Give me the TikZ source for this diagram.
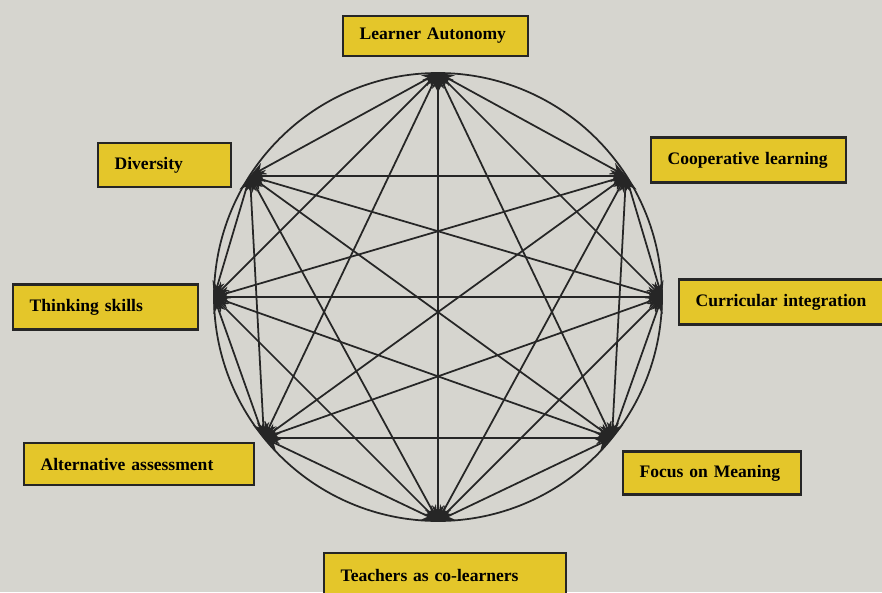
\documentclass[tikz,border=0pt]{standalone}
\usepackage{fontspec}
\setmainfont{Liberation Serif}
\usetikzlibrary{arrows.meta}
\definecolor{paper}{RGB}{214,213,207}
\definecolor{boxyellow}{RGB}{228,198,42}
\definecolor{ink}{RGB}{38,38,38}
\tikzset{lbl/.style={draw=ink,line width=1.3pt,fill=boxyellow,anchor=west,align=left,inner xsep=0.33cm,font=\bfseries},
  link/.style={ink,line width=1pt,{Stealth[length=9pt,width=7pt]}-{Stealth[length=9pt,width=7pt]}}}

\begin{document}
\begin{tikzpicture}[x=0.02cm,y=-0.02cm]
  \fill[paper] (0,0) rectangle (882,592); \useasboundingbox (0,0) rectangle (882,592);
  \node[lbl,text width=3.04cm,minimum height=0.8cm] (la) at (342,36) {Learner Autonomy};
  \node[lbl,text width=3.24cm,minimum height=0.9cm] (cl) at (650,160) {Cooperative learning};
  \node[lbl,text width=3.64cm,minimum height=0.9cm] (ci) at (678,302) {Curricular integration};
  \node[lbl,text width=2.9cm,minimum height=0.86cm] (fm) at (622,473) {Focus on Meaning};
  \node[lbl,text width=4.18cm,minimum height=0.88cm] (tc) at (323,575) {Teachers as co-learners};
  \node[lbl,text width=3.94cm,minimum height=0.84cm] (aa) at (23,464) {Alternative assessment};
  \node[lbl,text width=3.04cm,minimum height=0.9cm] (ts) at (12,307) {Thinking skills};
  \node[lbl,text width=2.0cm,minimum height=0.88cm] (dv) at (97,165) {Diversity};
  \draw[ink,line width=1pt] (438,297) circle (224);
  \coordinate (p1) at (438,73); \coordinate (p2) at (626,176); \coordinate (p3) at (662,297); \coordinate (p4) at (612,438);
  \coordinate (p5) at (438,521); \coordinate (p6) at (264,438); \coordinate (p7) at (214,297); \coordinate (p8) at (250,176);
  \foreach \i in {1,...,7}{\pgfmathtruncatemacro\k{\i+1}\foreach \j in {\k,...,8}{\draw[link] (p\i) -- (p\j);}}
\end{tikzpicture}
\end{document}
